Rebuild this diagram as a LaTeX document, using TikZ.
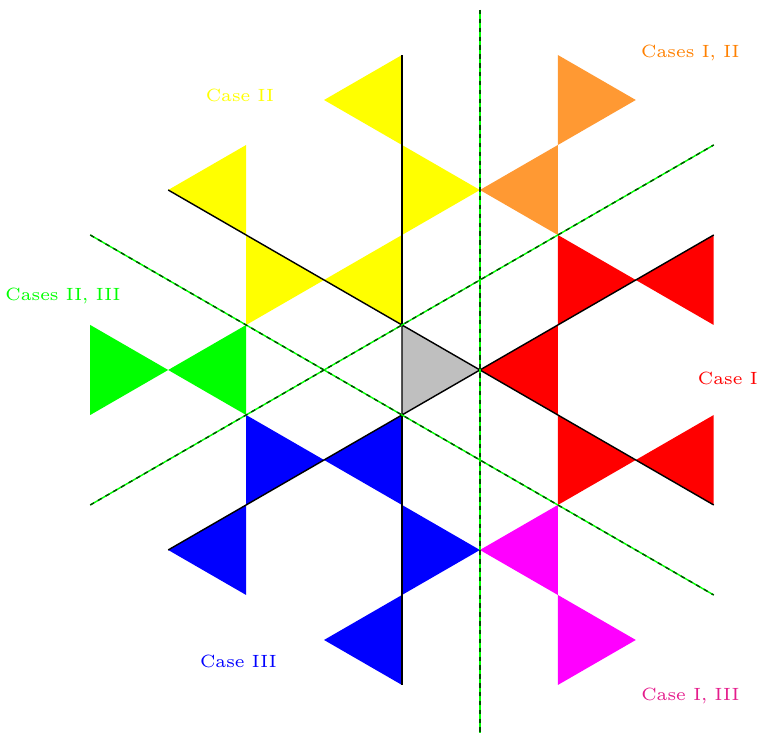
\documentclass[tikz,border=0pt]{standalone}
\usetikzlibrary{calc}
\definecolor{caseorange}{RGB}{255,153,51}
\definecolor{casepink}{RGB}{228,28,140}
\definecolor{cyellow}{RGB}{255,255,0}
\definecolor{cmagenta}{RGB}{255,0,255}
\definecolor{cgreen}{RGB}{0,255,0}
\definecolor{cred}{RGB}{255,0,0}
\definecolor{cblue}{RGB}{0,0,255}
\definecolor{cgray}{RGB}{191,191,191}
\definecolor{corangetext}{RGB}{255,128,0}
\begin{document}
\begin{tikzpicture}[x={(0.866cm,0)},y={(0,0.5cm)},
  edge/.style={draw=black,line width=0.45pt},
  guide/.style={draw=cgreen,line width=0.45pt},
  guidedash/.style={draw=green!30!black,line width=0.45pt,dash pattern=on 1.4pt off 1.4pt},
  lab/.style={font=\fontsize{5.6}{7}\selectfont}]
\useasboundingbox (-5.158,-8.067) rectangle (4.568,8.222);
\coordinate (g1) at (0,1);
\coordinate (g2) at (0,-1);
\coordinate (g3) at (1,0);
% yellow
\fill[cyellow] (0,7) -- (0,5) -- (-1,6) -- cycle;
\fill[cyellow] (0,5) -- (0,3) -- (1,4) -- cycle;
\fill[cyellow] (-2,5) -- (-2,3) -- (-3,4) -- cycle;
\fill[cyellow] (-2,3) -- (-2,1) -- (-1,2) -- cycle;
\fill[cyellow] (0,3) -- (0,1) -- (-1,2) -- cycle;
% orange
\fill[caseorange] (2,7) -- (2,5) -- (3,6) -- cycle;
\fill[caseorange] (2,5) -- (2,3) -- (1,4) -- cycle;
% red
\fill[cred] (2,3) -- (2,1) -- (3,2) -- cycle;
\fill[cred] (4,3) -- (4,1) -- (3,2) -- cycle;
\fill[cred] (2,1) -- (2,-1) -- (1,0) -- cycle;
\fill[cred] (2,-1) -- (2,-3) -- (3,-2) -- cycle;
\fill[cred] (4,-1) -- (4,-3) -- (3,-2) -- cycle;
% green
\fill[cgreen] (-4,1) -- (-4,-1) -- (-3,0) -- cycle;
\fill[cgreen] (-2,1) -- (-2,-1) -- (-3,0) -- cycle;
% blue
\fill[cblue] (-2,-1) -- (-2,-3) -- (-1,-2) -- cycle;
\fill[cblue] (0,-1) -- (0,-3) -- (-1,-2) -- cycle;
\fill[cblue] (-2,-3) -- (-2,-5) -- (-3,-4) -- cycle;
\fill[cblue] (0,-3) -- (0,-5) -- (1,-4) -- cycle;
\fill[cblue] (0,-5) -- (0,-7) -- (-1,-6) -- cycle;
% magenta
\fill[cmagenta] (2,-3) -- (2,-5) -- (1,-4) -- cycle;
\fill[cmagenta] (2,-5) -- (2,-7) -- (3,-6) -- cycle;
% centre
\path[edge,fill=cgray] (g1) -- (g2) -- (g3) -- cycle;
% black rays
\coordinate (r1) at (0,7);
\coordinate (r2) at (-3,4);
\coordinate (r3) at (4,3);
\coordinate (r4) at (4,-3);
\coordinate (r5) at (0,-7);
\coordinate (r6) at (-3,-4);
\draw[edge] (g1) -- (r1);
\draw[edge] (g1) -- (r2);
\draw[edge] (g3) -- (r3);
\draw[edge] (g3) -- (r4);
\draw[edge] (g2) -- (r5);
\draw[edge] (g2) -- (r6);
% dashed guide lines
\coordinate (v1) at (1,8);
\coordinate (v2) at (1,-8.07);
\coordinate (d1) at (-4,3);
\coordinate (d2) at (4,-5);
\coordinate (e1) at (-4,-3);
\coordinate (e2) at (4,5);
\foreach \a/\b in {v1/v2,d1/d2,e1/e2}{
  \draw[guide] (\a) -- (\b);
  \draw[guidedash] (\a) -- (\b);
}
% labels
\node[lab,text=cyellow] (l1) at (-2.08,6.11) {Case II};
\node[lab,text=corangetext] (l2) at (3.70,7.04) {Cases I, II};
\node[lab,text=cgreen] (l3) at (-4.35,1.64) {Cases II, III};
\node[lab,text=cred] (l4) at (4.18,-0.18) {Case I};
\node[lab,text=cblue] (l5) at (-2.10,-6.47) {Case III};
\node[lab,text=casepink] (l6) at (3.70,-7.24) {Case I, III};
\end{tikzpicture}
\end{document}
